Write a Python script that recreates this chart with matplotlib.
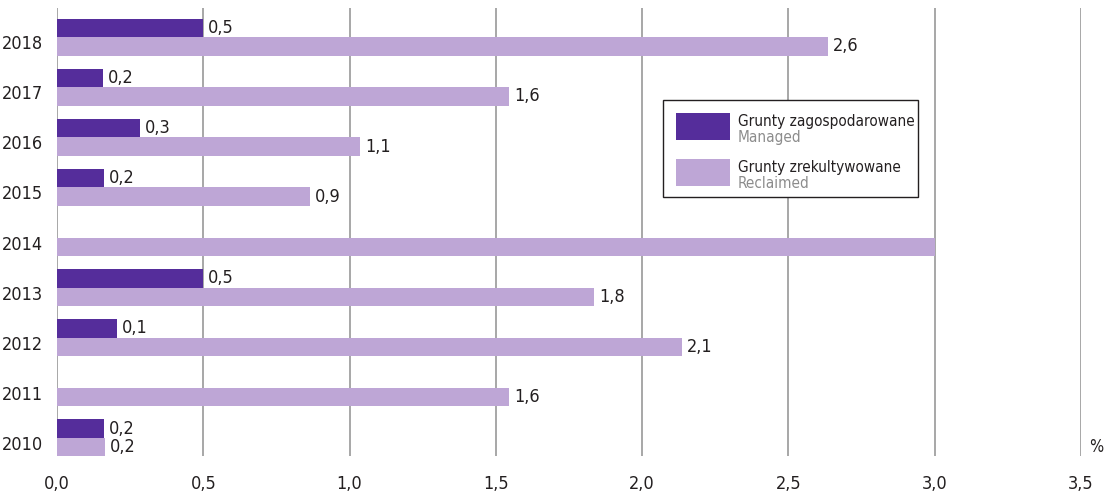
import matplotlib
matplotlib.use("Agg")
import matplotlib.pyplot as plt
from matplotlib.patches import Rectangle
from matplotlib.ticker import FuncFormatter
from matplotlib.transforms import ScaledTranslation

plt.rcParams["font.family"] = ["DejaVu Sans"]
plt.rcParams["font.stretch"] = "condensed"

COLOR_MANAGED = "#552D9B"
COLOR_RECLAIMED = "#BEA6D6"
COLOR_GRID = "#A0A0A0"
COLOR_TEXT = "#231F20"
COLOR_SUB = "#8C8C8C"

years = [2010, 2011, 2012, 2013, 2014, 2015, 2016, 2017, 2018]
managed = [0.16, 0.0, 0.205, 0.5, 0.0, 0.16, 0.285, 0.157, 0.5]
managed_labels = ["0,2", None, "0,1", "0,5", None, "0,2", "0,3", "0,2", "0,5"]
reclaimed = [0.165, 1.545, 2.135, 1.837, 3.0, 0.866, 1.037, 1.546, 2.634]
reclaimed_labels = ["0,2", "1,6", "2,1", "1,8", None, "0,9", "1,1", "1,6", "2,6"]
x_ticks = [0.0, 0.5, 1.0, 1.5, 2.0, 2.5, 3.0, 3.5]

W, H = 1105, 493
fig = plt.figure(figsize=(W / 100, H / 100), dpi=100)
ax = fig.add_axes([57 / W, 1 - 456 / H, (1081 - 57) / W, 448 / H])

h = 0.37
y = list(range(len(years)))
b1 = ax.barh([i + h / 2 for i in y], managed, h, color=COLOR_MANAGED, zorder=3)
b2 = ax.barh([i - h / 2 for i in y], reclaimed, h, color=COLOR_RECLAIMED, zorder=3)

for bars, labels in ((b1, managed_labels), (b2, reclaimed_labels)):
    for rect, lab in zip(bars, labels):
        if lab is None:
            continue
        ax.annotate(lab, (rect.get_width(), rect.get_y() + rect.get_height() / 2),
                    textcoords="offset points", xytext=(3.5, 0), ha="left", va="center",
                    fontsize=13, color=COLOR_TEXT)

ax.set_xlim(0, 3.5)
ax.set_ylim(-0.36, 8.58)
ax.set_xticks(x_ticks)
ax.xaxis.set_major_formatter(FuncFormatter(lambda v, p: f"{v:.1f}".replace(".", ",")))
ax.set_yticks(y)
ax.set_yticklabels([str(v) for v in years])
ax.tick_params(axis="both", length=0, labelsize=13, colors=COLOR_TEXT)
ax.tick_params(axis="x", pad=14)
ax.tick_params(axis="y", pad=10)
# etykiety lat w oryginale są lekko poniżej środka grupy
shift = ScaledTranslation(0, -5 / 100, fig.dpi_scale_trans)
for lab in ax.get_yticklabels():
    lab.set_transform(lab.get_transform() + shift)
ax.grid(axis="x", color=COLOR_GRID, linewidth=1.3, zorder=0)
for s in ax.spines.values():
    s.set_visible(False)

ax.text(1.008, 0.0, "%", transform=ax.transAxes, ha="left", va="bottom",
        fontsize=12, color=COLOR_TEXT)


# legenda rysowana ręcznie (dwukolorowe podpisy PL / EN)
def fx(px):
    return px / W


def fy(py):
    return 1 - py / H


fig.add_artist(Rectangle((fx(663), fy(197)), fx(918) - fx(663), fy(100) - fy(197),
                         transform=fig.transFigure, facecolor="white",
                         edgecolor=COLOR_TEXT, linewidth=1.0, zorder=5))
legend_items = [
    (COLOR_MANAGED, "Grunty zagospodarowane", "Managed", 113),
    (COLOR_RECLAIMED, "Grunty zrekultywowane", "Reclaimed", 159),
]
for color, pl, en, top in legend_items:
    fig.add_artist(Rectangle((fx(676), fy(top + 27)), fx(730) - fx(676), fy(top) - fy(top + 27),
                             transform=fig.transFigure, facecolor=color,
                             edgecolor="none", zorder=6))
    fig.text(fx(738), fy(top + 13), pl, ha="left", va="baseline",
             fontsize=11, color=COLOR_TEXT, zorder=7)
    fig.text(fx(738), fy(top + 29), en, ha="left", va="baseline",
             fontsize=11, color=COLOR_SUB, zorder=7)

fig.savefig("out.png", facecolor="white")
